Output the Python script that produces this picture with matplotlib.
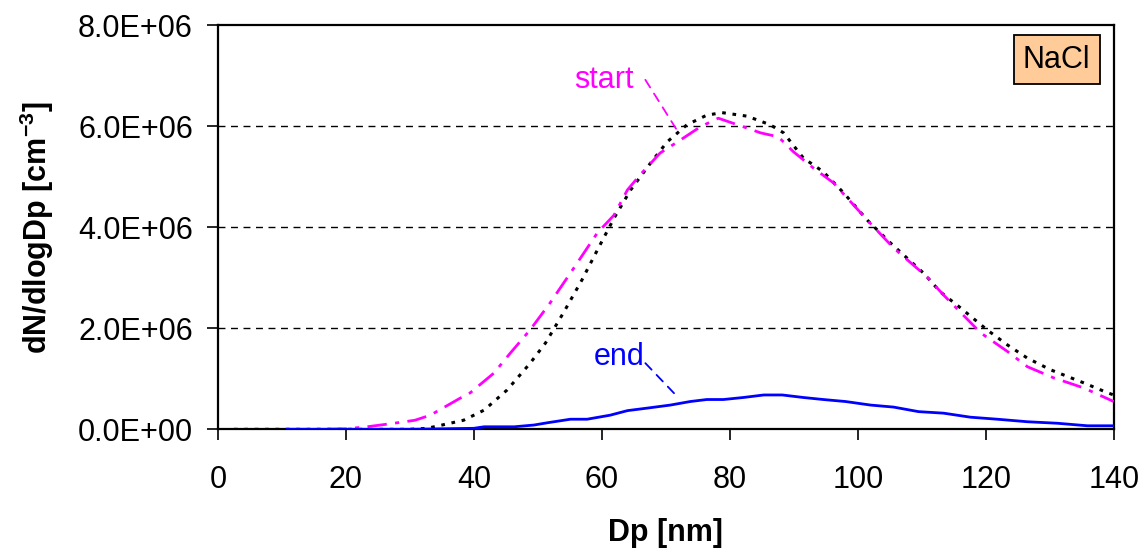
import matplotlib
matplotlib.use("Agg")
import matplotlib.pyplot as plt
from matplotlib.ticker import FuncFormatter

# ---- data ----
other_x = [2.5, 10, 20, 30, 32.7, 38.4, 41.6, 45.2, 48.8, 51.2, 54.1, 56.9, 59.3, 61.9, 64.5,
           67.6, 70.2, 73.3, 76.4, 78.8, 82.7, 86.3, 88.4, 91.5, 94.6, 97.8, 101.5, 105.1,
           110.3, 112.9, 116.1, 120.2, 123.4, 126.5, 130.1, 135.3, 139.1, 140]
other_y = [0, 0, 0, 0, 0.02, 0.18, 0.38, 0.78, 1.31, 1.71, 2.33, 2.96, 3.55, 4.18, 4.74,
           5.27, 5.69, 6.03, 6.22, 6.27, 6.20, 6.03, 5.87, 5.37, 5.10, 4.68, 4.14, 3.69,
           3.09, 2.72, 2.40, 1.97, 1.67, 1.41, 1.18, 0.92, 0.72, 0.68]

start_x = [10.8, 16, 20, 23.3, 27.5, 30.8, 33.2, 37.9, 39.4, 43.1, 45.7, 48.8, 51.9, 55.6,
           59.3, 61.9, 64.0, 66.0, 69.1, 72.3, 75.4, 78.2, 82.1, 84.8, 87.6, 89.9, 93.1,
           96.2, 101.5, 105.6, 110.8, 113.4, 119.2, 123.4, 126.5, 130.6, 135.3, 140]
start_y = [0, 0, 0.01, 0.05, 0.12, 0.18, 0.28, 0.62, 0.72, 1.11, 1.51, 1.97, 2.50, 3.19,
           3.89, 4.24, 4.74, 5.04, 5.47, 5.73, 5.99, 6.16, 5.99, 5.87, 5.79, 5.50, 5.17,
           4.88, 4.14, 3.59, 3.02, 2.66, 1.91, 1.54, 1.24, 1.02, 0.82, 0.55]

end_x = [10.8, 20, 30, 40, 41.6, 46.3, 49.4, 51.5, 55.1, 57.7, 61.3, 64.0, 67.1, 70.7,
         73.8, 76.4, 79.0, 82.1, 85.3, 88.2, 91.5, 94.6, 98.1, 102, 105.6, 109.5, 113.4,
         117.6, 121.8, 126.5, 131.2, 135.9, 140]
end_y = [0, 0, 0, 0.02, 0.05, 0.05, 0.085, 0.13, 0.20, 0.20, 0.28, 0.37, 0.42, 0.48,
         0.55, 0.59, 0.59, 0.63, 0.68, 0.68, 0.63, 0.59, 0.55, 0.48, 0.44, 0.35, 0.32,
         0.24, 0.20, 0.15, 0.12, 0.07, 0.07]

scale = 1e6
xticks = [0, 20, 40, 60, 80, 100, 120, 140]
yticks = [0, 2e6, 4e6, 6e6, 8e6]

plt.rcParams['font.family'] = ['Liberation Sans', 'DejaVu Sans']
plt.rcParams['mathtext.fontset'] = 'custom'
plt.rcParams['mathtext.rm'] = 'Liberation Sans'
plt.rcParams['mathtext.bf'] = 'Liberation Sans:bold'

fig = plt.figure(figsize=(11.47, 5.49), dpi=100)
ax = fig.add_axes([0.190, 0.218, 0.781, 0.736])

ax.plot(other_x, [v * scale for v in other_y], color='black', lw=2.2,
        linestyle=(0, (1.2, 2.2)), zorder=3)
ax.plot(start_x, [v * scale for v in start_y], color='#FF00FF', lw=2.0,
        linestyle=(0, (7, 3, 1.5, 3)), zorder=4)
ax.plot(end_x, [v * scale for v in end_y], color='#0000FF', lw=2.0,
        linestyle='-', zorder=5)

ax.set_xlim(0, 140)
ax.set_ylim(0, 8e6)
ax.set_xticks(xticks)
ax.set_yticks(yticks)
ax.yaxis.set_major_formatter(FuncFormatter(lambda v, p: '{:.1E}'.format(v)))
ax.tick_params(axis='both', direction='out', length=8, width=1.2, labelsize=22)
ax.tick_params(axis='y', pad=10)
ax.tick_params(axis='x', pad=18)

for y in yticks[1:4]:
    ax.axhline(y, color='black', lw=1.0, linestyle=(0, (5, 4)), zorder=1)

for s in ax.spines.values():
    s.set_linewidth(1.6)

ax.set_xlabel('Dp [nm]', fontsize=22, fontweight='bold', labelpad=16)
ax.set_ylabel('dN/dlogDp [cm$^{\\mathbf{-3}}$]', fontsize=22, fontweight='bold', labelpad=16)

# annotations: labels with dashed leader lines
ax.text(60.3, 6.92e6, 'start', color='#FF00FF', fontsize=22, ha='center', va='center')
ax.annotate('', xy=(72.0, 5.87e6), xytext=(66.8, 6.92e6),
            arrowprops=dict(arrowstyle='-', color='#FF00FF', lw=1.3,
                            linestyle=(0, (5, 4)), shrinkA=0, shrinkB=0))
ax.text(62.7, 1.43e6, 'end', color='#0000FF', fontsize=22, ha='center', va='center')
ax.annotate('', xy=(72.0, 0.62e6), xytext=(66.8, 1.31e6),
            arrowprops=dict(arrowstyle='-', color='#0000FF', lw=1.3,
                            linestyle=(0, (5, 4)), shrinkA=0, shrinkB=0))

ax.text(0.974, 0.952, 'NaCl', transform=ax.transAxes, ha='right', va='top',
        fontsize=22, color='black',
        bbox=dict(boxstyle='square,pad=0.3', facecolor='#FFCC99', edgecolor='black', lw=1.3))

fig.savefig('out.png', dpi=100)
